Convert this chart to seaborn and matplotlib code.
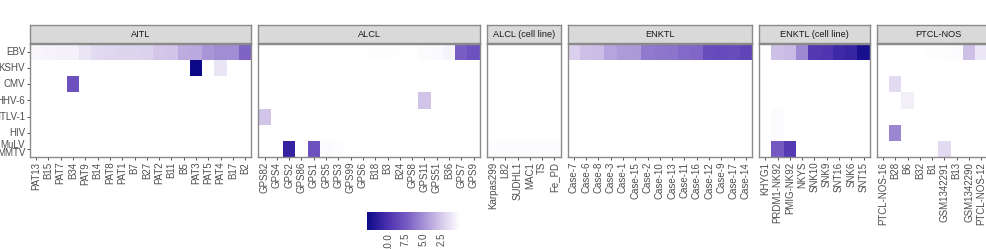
import numpy as np
import pandas as pd
import matplotlib
matplotlib.use("Agg")
import matplotlib.pyplot as plt
import seaborn as sns
from matplotlib.colors import LinearSegmentedColormap

# ---------------- data ----------------
viruses = ["EBV", "KSHV", "CMV", "HHV-6", "HTLV-1", "HIV", "MuLV\nMMTV"]

aitl_samples = ["PAT13", "B15", "PAT7", "B34", "PAT9", "B14", "PAT8", "PAT1", "B7",
                "B27", "PAT2", "B11", "B5", "PAT3", "PAT5", "PAT4", "B17", "B2"]
aitl_ebv = [0.5, 0.6, 0.7, 0.7, 1.3, 1.8, 2.0, 2.1, 2.1, 2.2, 2.7, 2.8, 3.9, 4.0, 4.8, 5.2, 5.2, 7.0]
aitl_kshv = [0, 0, 0, 0, 0, 0, 0, 0, 0, 0, 0, 0, 0, 12.9, 0, 1.3, 0, 0]
aitl_cmv = [0, 0, 0, 8.0, 0, 0, 0, 0, 0, 0, 0, 0, 0, 0, 0, 0, 0, 0]

alcl_samples = ["GPS82", "GPS4", "GPS2", "GPS86", "GPS1", "GPS5", "GPS3", "GPS99", "GPS6",
                "B18", "B3", "B24", "GPS8", "GPS11", "GPS51", "B36", "GPS7", "GPS9"]
alcl_ebv = [0, 0, 0, 0, 0, 0, 0, 0.1, 0.1, 0.15, 0.15, 0.1, 0, 0.3, 0.35, 0.6, 7.3, 8.0]
alcl_hhv6 = [0, 0, 0, 0, 0, 0, 0, 0, 0, 0, 0, 0, 0, 2.8, 0, 0, 0, 0]
alcl_htlv1 = [2.8, 0, 0, 0, 0, 0, 0, 0, 0, 0, 0, 0, 0, 0, 0, 0, 0, 0]
alcl_mulv = [0, 0, 11.0, 0, 8.0, 0.3, 0.2, 0.1, 0, 0, 0, 0, 0, 0, 0, 0, 0, 0]

alclcl_samples = ["Karpas299", "L82", "SUDHL1", "MAC1", "TS", "Fe_PD"]
alclcl_ebv = [0, 0, 0, 0, 0, 0.1]
alclcl_mulv = [0.25, 0.25, 0.25, 0.25, 0.25, 0.25]

enktl_samples = ["Case-7", "Case-6", "Case-8", "Case-3", "Case-1", "Case-15", "Case-2",
                 "Case-10", "Case-13", "Case-11", "Case-16", "Case-12", "Case-9", "Case-17", "Case-14"]
enktl_ebv = [2.3, 3.0, 3.1, 4.2, 4.6, 4.7, 6.0, 6.2, 6.3, 6.8, 6.9, 8.3, 8.4, 8.3, 8.8]

enktlcl_samples = ["KHYG1", "PRDM1-NK92", "PMIG-NK92", "NKYS", "SNK10", "SNK9", "SNT16", "SNK6", "SNT15"]
enktlcl_ebv = [0, 3.0, 3.2, 5.4, 9.6, 9.8, 10.6, 10.9, 12.3]
enktlcl_htlv1 = [0, 0.3, 0, 0, 0, 0, 0, 0, 0]
enktlcl_hiv = [0, 0.3, 0, 0, 0, 0, 0, 0, 0]
enktlcl_mulv = [0, 7.5, 9.5, 0, 0, 0, 0, 0, 0]

ptcl_samples = ["PTCL-NOS-16", "B28", "B6", "B32", "B1", "GSM1342291", "B13",
                "GSM1342290", "PTCL-NOS-12", "PTCL-NOS-3"]
ptcl_ebv = [0, 0, 0, 0, 0.15, 0.15, 0.3, 3.0, 1.2, 0.5]
ptcl_cmv = [0, 1.8, 0, 0, 0, 0, 0, 0, 0, 0]
ptcl_hhv6 = [0, 0, 0.8, 0, 0, 0, 0, 0, 0, 0]
ptcl_hiv = [0, 5.5, 0, 0, 0, 0, 0, 0, 0, 0]
ptcl_mulv = [0, 0, 0, 0, 0, 1.8, 0, 0, 0, 0]

panel_titles = ["AITL", "ALCL", "ALCL (cell line)", "ENKTL", "ENKTL (cell line)", "PTCL-NOS"]
colorbar_ticks = [2.5, 5.0, 7.5, 10.0]
vmax = 12.9


def build(samples, rows):
    n = len(samples)
    data = {v: rows.get(v, [0] * n) for v in viruses}
    return pd.DataFrame(data, index=samples).T


panels = [
    build(aitl_samples, {"EBV": aitl_ebv, "KSHV": aitl_kshv, "CMV": aitl_cmv}),
    build(alcl_samples, {"EBV": alcl_ebv, "HHV-6": alcl_hhv6, "HTLV-1": alcl_htlv1,
                         "MuLV\nMMTV": alcl_mulv}),
    build(alclcl_samples, {"EBV": alclcl_ebv, "MuLV\nMMTV": alclcl_mulv}),
    build(enktl_samples, {"EBV": enktl_ebv}),
    build(enktlcl_samples, {"EBV": enktlcl_ebv, "HTLV-1": enktlcl_htlv1, "HIV": enktlcl_hiv,
                            "MuLV\nMMTV": enktlcl_mulv}),
    build(ptcl_samples, {"EBV": ptcl_ebv, "CMV": ptcl_cmv, "HHV-6": ptcl_hhv6, "HIV": ptcl_hiv,
                         "MuLV\nMMTV": ptcl_mulv}),
]

# ---------------- style ----------------
sns.set_style("white")
plt.rcParams["font.family"] = ["Liberation Sans", "DejaVu Sans"]

cmap = LinearSegmentedColormap.from_list(
    "vir",
    [(0.0, "#FFFFFF"), (2.5 / vmax, "#D6CBEB"), (5.0 / vmax, "#A592D6"),
     (7.5 / vmax, "#7558C2"), (10.0 / vmax, "#4C32AE"), (1.0, "#0C0888")])

W, H = 987, 249
fig = plt.figure(figsize=(W / 100, H / 100), dpi=100)


def fx(px):
    return px / W


def fy(px):
    return 1 - px / H


col_w = 12.3
gap = 7.0
x0 = 30.0
top_px, bot_px = 44.0, 157.0
strip_top = 25.0
border_col = "#8A8A8A"

mappable = None
for i, (df, title) in enumerate(zip(panels, panel_titles)):
    n = df.shape[1]
    wpx = n * col_w
    ax = fig.add_axes([fx(x0), fy(bot_px), fx(wpx), (bot_px - top_px) / H])
    sns.heatmap(df, ax=ax, cmap=cmap, vmin=0, vmax=vmax, cbar=False, linewidths=0,
                xticklabels=True, yticklabels=(i == 0))
    if mappable is None:
        mappable = ax.collections[0]
    for s in ax.spines.values():
        s.set_visible(True)
        s.set_color(border_col)
        s.set_linewidth(1.0)
    ax.tick_params(axis="x", rotation=90, labelsize=7, labelcolor="#4D4D4D",
                   length=2.5, width=0.6, color="#333333", pad=1, bottom=True)
    if i == 0:
        ax.tick_params(axis="y", rotation=0, labelsize=7, labelcolor="#4D4D4D",
                       length=2.5, width=0.6, color="#333333", pad=1, left=True)
        for lab in ax.get_yticklabels():
            lab.set_linespacing(0.75)
    else:
        ax.tick_params(axis="y", left=False)
    ax.set_xlabel("")
    ax.set_ylabel("")

    sax = fig.add_axes([fx(x0), fy(top_px - 1), fx(wpx), (top_px - 1 - strip_top) / H])
    sax.set_facecolor("#D9D9D9")
    sax.set_xticks([])
    sax.set_yticks([])
    for s in sax.spines.values():
        s.set_color(border_col)
        s.set_linewidth(1.0)
    sax.text(0.5, 0.5, title, ha="center", va="center", fontsize=6.6,
             color="#1A1A1A", transform=sax.transAxes)
    x0 += wpx + gap

# ---------------- colorbar ----------------
cax = fig.add_axes([fx(367), fy(230), fx(93), 18 / H])
cb = fig.colorbar(mappable, cax=cax, orientation="horizontal")
cb.outline.set_visible(False)
cb.set_ticks(colorbar_ticks)
cb.set_ticklabels([f"{t:.1f}" for t in colorbar_ticks])
cax.invert_xaxis()
cax.tick_params(axis="x", direction="in", color="white", length=3.5, width=0.6,
                top=True, bottom=True, labelsize=7, labelcolor="#4D4D4D",
                rotation=90, pad=2)

fig.savefig("out.png", dpi=100)
